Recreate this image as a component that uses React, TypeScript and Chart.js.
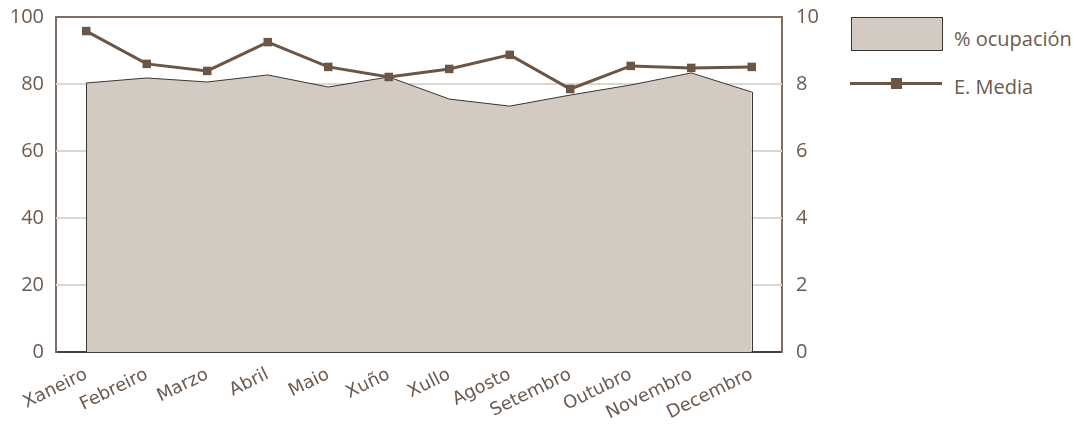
import React, { useEffect, useRef } from "react";
import { Chart, registerables } from "chart.js";

Chart.register(...registerables);

const months = ["Xaneiro", "Febreiro", "Marzo", "Abril", "Maio", "Xuño", "Xullo", "Agosto", "Setembro", "Outubro", "Novembro", "Decembro"];
const ocupacion = [80.3, 81.8, 80.6, 82.7, 79.1, 82.1, 75.5, 73.4, 76.7, 79.7, 83.3, 77.6];
const estanciaMedia = [9.58, 8.6, 8.39, 9.25, 8.51, 8.21, 8.45, 8.87, 7.85, 8.54, 8.48, 8.51];
const leftTicks = [0, 20, 40, 60, 80, 100];
const rightTicks = [0, 2, 4, 6, 8, 10];
const legendLabels = ["% ocupación", "E. Media"];

const TEXT = "#6b5a4e";
const FILL = "#d3cac1";
const LINE = "#6b5646";
const AXIS = "#7d6d62";
const GRID = "#dcd6cb";
const FONT = "'Open Sans', 'DejaVu Sans', sans-serif";

const gridPlugin = {
  id: "customGrid",
  beforeDatasetsDraw(chart: any) {
    const { ctx, chartArea } = chart;
    const y = chart.scales.y;
    ctx.save();
    ctx.lineWidth = 2;
    leftTicks.forEach((v) => {
      if (v === 0) return;
      const py = Math.round(y.getPixelForValue(v));
      ctx.strokeStyle = v === 100 ? AXIS : GRID;
      ctx.beginPath();
      ctx.moveTo(chartArea.left, py);
      ctx.lineTo(chartArea.right, py);
      ctx.stroke();
    });
    ctx.restore();
  },
};

const edgePlugin = {
  id: "areaEdges",
  afterDatasetDraw(chart: any, args: any) {
    if (args.index !== 0) return;
    const meta = chart.getDatasetMeta(0);
    const pts = meta.data;
    if (!pts.length) return;
    const y0 = chart.scales.y.getPixelForValue(0);
    const ctx = chart.ctx;
    ctx.save();
    ctx.strokeStyle = "#3a3433";
    ctx.lineWidth = 1;
    ctx.beginPath();
    const f = pts[0];
    const l = pts[pts.length - 1];
    ctx.moveTo(Math.round(f.x) + 0.5, f.y);
    ctx.lineTo(Math.round(f.x) + 0.5, y0);
    ctx.moveTo(Math.round(l.x) + 0.5, l.y);
    ctx.lineTo(Math.round(l.x) + 0.5, y0);
    ctx.stroke();
    ctx.restore();
  },
};

export default function App() {
  const ref = useRef<HTMLCanvasElement | null>(null);
  useEffect(() => {
    document.body.style.margin = "0";
    if (!ref.current) return;
    const chart = new Chart(ref.current, {
      type: "line",
      data: {
        labels: months,
        datasets: [
          {
            label: legendLabels[0],
            data: ocupacion,
            yAxisID: "y",
            fill: "origin",
            backgroundColor: FILL,
            borderColor: "#3a3433",
            borderWidth: 1,
            pointRadius: 0,
            tension: 0,
            order: 2,
          },
          {
            label: legendLabels[1],
            data: estanciaMedia,
            yAxisID: "y1",
            fill: false,
            borderColor: LINE,
            backgroundColor: LINE,
            borderWidth: 3,
            pointStyle: "rect",
            pointRadius: 6,
            pointBorderWidth: 0,
            pointBackgroundColor: LINE,
            tension: 0,
            order: 1,
          },
        ],
      },
      options: {
        animation: false,
        responsive: false,
        maintainAspectRatio: false,
        layout: { padding: { top: 17, left: 0, right: 0, bottom: 0 } },
        plugins: { legend: { display: false }, tooltip: { enabled: false } },
        scales: {
          x: {
            offset: true,
            grid: { display: false, drawTicks: false },
            border: { color: "#4a403a", width: 2 },
            ticks: {
              color: TEXT,
              font: { family: "'DejaVu Sans', sans-serif", size: 18 },
              minRotation: 26,
              maxRotation: 26,
              padding: 12,
              autoSkip: false,
            },
            afterFit: (s: any) => { s.height = 73; s.paddingLeft = 0; s.paddingRight = 0; },
          },
          y: {
            position: "left",
            min: 0,
            max: 100,
            afterBuildTicks: (s: any) => { s.ticks = leftTicks.map((v) => ({ value: v })); },
            grid: { display: false, drawTicks: false },
            border: { color: AXIS, width: 2 },
            ticks: { color: TEXT, font: { family: FONT, size: 20 }, padding: 12 },
            afterFit: (s: any) => { s.width = 56; s.paddingTop = 0; s.paddingBottom = 0; },
          },
          y1: {
            position: "right",
            min: 0,
            max: 10,
            afterBuildTicks: (s: any) => { s.ticks = rightTicks.map((v) => ({ value: v })); },
            grid: { display: false, drawTicks: false },
            border: { color: AXIS, width: 2 },
            ticks: { color: TEXT, font: { family: FONT, size: 20 }, padding: 14 },
            afterFit: (s: any) => { s.width = 50; s.paddingTop = 0; s.paddingBottom = 0; },
          },
        },
      },
      plugins: [gridPlugin, edgePlugin],
    } as any);
    return () => chart.destroy();
  }, []);

  return (
    <div style={{ position: "relative", width: 1077, height: 425, background: "#fff" }}>
      <canvas ref={ref} width={832} height={425} style={{ position: "absolute", left: 0, top: 0, width: 832, height: 425 }} />
      <div style={{ position: "absolute", left: 851, top: 17, width: 90, height: 32, background: FILL, border: "1px solid #3a3433" }} />
      <div style={{ position: "absolute", left: 954, top: 26, color: TEXT, fontFamily: FONT, fontSize: 20, lineHeight: "26px", whiteSpace: "nowrap" }}>{legendLabels[0]}</div>
      <div style={{ position: "absolute", left: 850, top: 82, width: 92, height: 3, background: LINE }} />
      <div style={{ position: "absolute", left: 891, top: 78, width: 11, height: 11, background: LINE }} />
      <div style={{ position: "absolute", left: 954, top: 74, color: TEXT, fontFamily: FONT, fontSize: 20, lineHeight: "26px", whiteSpace: "nowrap" }}>{legendLabels[1]}</div>
    </div>
  );
}
